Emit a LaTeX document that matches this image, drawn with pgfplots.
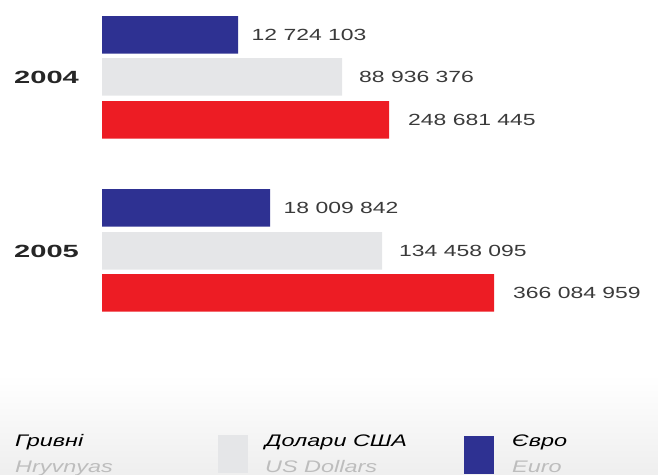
\documentclass[border=0pt]{standalone}
\usepackage{pgfplots}
\pgfplotsset{compat=1.18}
\usepackage{fontspec}
\setmainfont{Liberation Sans}
\newfontfamily\numfont[FakeStretch=1.42]{Liberation Sans}
\newfontfamily\yearfont[FakeStretch=1.65]{Liberation Sans}
\newfontfamily\legfont[FakeStretch=1.4]{Liberation Sans}
\definecolor{euro}{HTML}{2E3192}
\definecolor{usd}{HTML}{E5E6E8}
\definecolor{uah}{HTML}{ED1C24}
\definecolor{txt}{HTML}{3A3A3A}
\definecolor{yeartxt}{HTML}{262626}
\definecolor{subtxt}{HTML}{BDBDBD}
\newcommand\numf{\numfont\fontsize{16.2}{18}\selectfont}
\newcommand\yearf{\yearfont\bfseries\fontsize{17.7}{20}\selectfont}
\newcommand\legf{\legfont\itshape\fontsize{16.8}{18}\selectfont}

\begin{document}
\begin{tikzpicture}[x=1bp,y=1bp]
\useasboundingbox (0,0) rectangle (658,475);
\shade[top color=white, bottom color=gray!13] (0,0) rectangle (658,100);
\begin{axis}[
    at={(0,0)}, anchor=south west,
    scale only axis, width=658bp, height=475bp,
    xmin=-102, xmax=556, ymin=0, ymax=475, y dir=reverse,
    hide axis, clip=false,
    xbar, bar width=37.5,
    nodes near coords, point meta=explicit symbolic,
    every node near coord/.append style={font=\numf, text=txt, anchor=west, inner sep=0pt},
]
% bar lengths as drawn (not to scale); labels carry the real amounts
\addplot[fill=euro, draw=none, bar shift=0pt,
    every node near coord/.append style={xshift=13.5bp}]
    coordinates {(136,35) [12 724 103] (168,208) [18 009 842]};
\addplot[fill=usd, draw=none, bar shift=0pt,
    every node near coord/.append style={xshift=17bp}]
    coordinates {(240,77) [88 936 376] (280,251) [134 458 095]};
\addplot[fill=uah, draw=none, bar shift=0pt,
    every node near coord/.append style={xshift=19bp}]
    coordinates {(287,120) [248 681 445] (392,293) [366 084 959]};
\end{axis}

\node[anchor=west, inner sep=0pt, text=yeartxt] at (14,398) {\yearf 2004};
\node[anchor=west, inner sep=0pt, text=yeartxt] at (14,224) {\yearf 2005};

\begin{scope}
\clip (0,0) rectangle (658,475);
\fill[usd] (218,2) rectangle (248,40);
\fill[euro] (464,1) rectangle (494,39);
\node[anchor=base west, inner sep=0pt, text=black] at (15,28) {\legf Гривні};
\node[anchor=base west, inner sep=0pt, text=subtxt] at (15,2) {\legf Hryvnyas};
\node[anchor=base west, inner sep=0pt, text=black] at (265,28) {\legf Долари США};
\node[anchor=base west, inner sep=0pt, text=subtxt] at (265,2) {\legf US Dollars};
\node[anchor=base west, inner sep=0pt, text=black] at (512,28) {\legf Євро};
\node[anchor=base west, inner sep=0pt, text=subtxt] at (512,2) {\legf Euro};
\end{scope}
\end{tikzpicture}
\end{document}
